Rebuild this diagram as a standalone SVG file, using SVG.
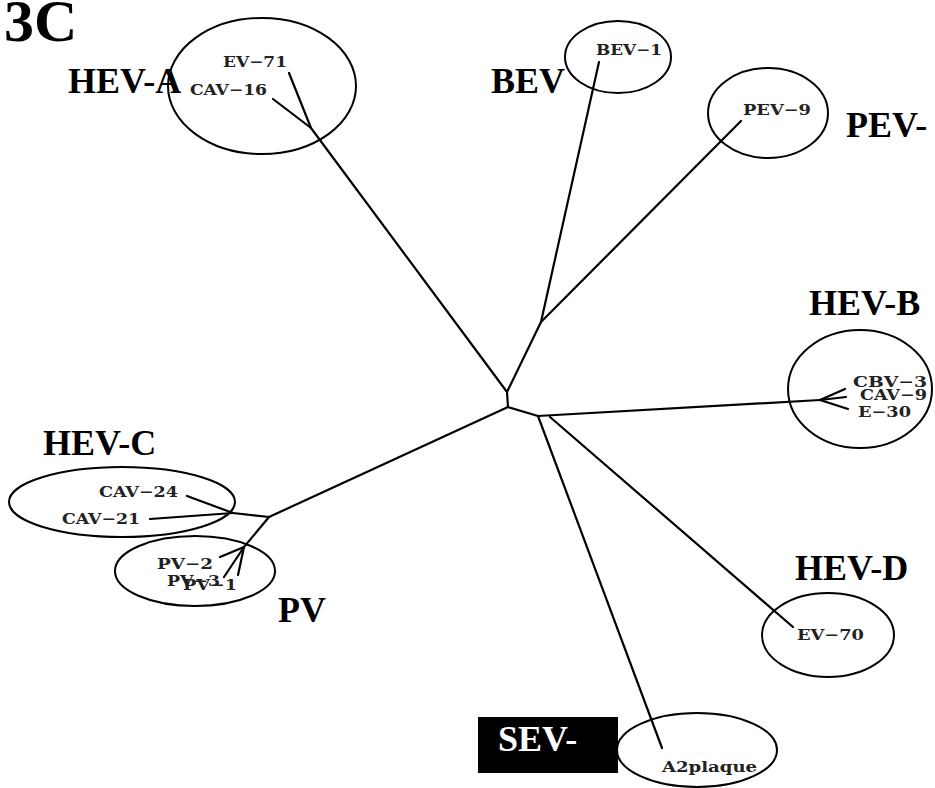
<svg xmlns="http://www.w3.org/2000/svg" width="935" height="788" viewBox="0 0 935 788">
<style>
.big{font-family:"Liberation Serif","Times New Roman",serif;font-weight:bold;font-size:36px;fill:#000}
.lab{font-family:"DejaVu Serif","Liberation Serif",serif;font-weight:bold;font-size:15px;fill:#222}
.ell{fill:none;stroke:#000;stroke-width:2}
.br{fill:none;stroke:#000;stroke-width:2.2;stroke-linecap:round;stroke-linejoin:round}
</style>
<rect width="935" height="788" fill="#fff"/>
<text class="big" x="4" y="41" style="font-size:60px">3C</text>
<g id="connectors">
<polyline class="br" points="311,128 507,392 508,407 538,416 820,400"/>
<polyline class="br" points="507,392 541,322 599,62"/>
<line class="br" x1="541" y1="322" x2="741" y2="121"/>
<line class="br" x1="311" y1="128" x2="289" y2="73"/>
<line class="br" x1="311" y1="128" x2="273" y2="99"/>
<polyline class="br" points="508,407 269,517 233,513 187,496"/>
<line class="br" x1="233" y1="513" x2="150" y2="519"/>
<line class="br" x1="269" y1="517" x2="244" y2="547"/>
<line class="br" x1="244" y1="547" x2="220" y2="557"/>
<line class="br" x1="244" y1="547" x2="224" y2="577"/>
<line class="br" x1="244" y1="547" x2="238" y2="575"/>
<line class="br" x1="538" y1="416" x2="662" y2="748"/>
<line class="br" x1="550" y1="417" x2="793" y2="627"/>
<line class="br" x1="820" y1="400" x2="845" y2="389"/>
<line class="br" x1="820" y1="400" x2="846" y2="397"/>
<line class="br" x1="820" y1="400" x2="848" y2="409"/>
</g>
<g id="hev-a">
<ellipse class="ell" cx="262" cy="86" rx="94" ry="68"/>
<text class="big" x="68" y="93">HEV-A</text>
<text class="lab" x="223" y="67" textLength="64" lengthAdjust="spacingAndGlyphs">EV−71</text>
<text class="lab" x="190" y="95" textLength="77" lengthAdjust="spacingAndGlyphs">CAV−16</text>
</g>
<g id="bev">
<ellipse class="ell" cx="618" cy="57" rx="53" ry="36"/>
<text class="big" x="491" y="93">BEV</text>
<text class="lab" x="596" y="55" textLength="66" lengthAdjust="spacingAndGlyphs">BEV−1</text>
</g>
<g id="pev">
<ellipse class="ell" cx="768" cy="113" rx="60" ry="45"/>
<text class="big" x="846" y="137">PEV-</text>
<text class="lab" x="743" y="115" textLength="68" lengthAdjust="spacingAndGlyphs">PEV−9</text>
</g>
<g id="hev-b">
<ellipse class="ell" cx="860" cy="389" rx="72" ry="59"/>
<text class="big" x="809" y="315">HEV-B</text>
<text class="lab" x="853" y="387" textLength="74" lengthAdjust="spacingAndGlyphs">CBV−3</text>
<text class="lab" x="860" y="400" textLength="67" lengthAdjust="spacingAndGlyphs">CAV−9</text>
<text class="lab" x="858" y="417" textLength="53" lengthAdjust="spacingAndGlyphs">E−30</text>
</g>
<g id="hev-c">
<ellipse class="ell" cx="122" cy="502" rx="113" ry="35"/>
<text class="big" x="43" y="455">HEV-C</text>
<text class="lab" x="99" y="497" textLength="79" lengthAdjust="spacingAndGlyphs">CAV−24</text>
<text class="lab" x="62" y="524" textLength="78" lengthAdjust="spacingAndGlyphs">CAV−21</text>
</g>
<g id="pv">
<ellipse class="ell" cx="195" cy="571" rx="80" ry="35"/>
<text class="big" x="278" y="622">PV</text>
<text class="lab" x="157" y="569" textLength="56" lengthAdjust="spacingAndGlyphs">PV−2</text>
<text class="lab" x="167" y="586" textLength="53" lengthAdjust="spacingAndGlyphs">PV−3</text>
<text class="lab" x="183" y="590" textLength="54" lengthAdjust="spacingAndGlyphs">PV−1</text>
</g>
<g id="hev-d">
<ellipse class="ell" cx="828" cy="635" rx="66" ry="42"/>
<text class="big" x="795" y="580">HEV-D</text>
<text class="lab" x="797" y="640" textLength="67" lengthAdjust="spacingAndGlyphs">EV−70</text>
</g>
<g id="sev">
<rect x="478" y="717" width="140" height="56" fill="#000"/>
<text class="big" x="498" y="751" style="fill:#fff">SEV-</text>
<ellipse class="ell" cx="697" cy="750" rx="80" ry="37"/>
<text class="lab" x="662" y="772" textLength="95" lengthAdjust="spacingAndGlyphs">A2plaque</text>
</g>
</svg>
